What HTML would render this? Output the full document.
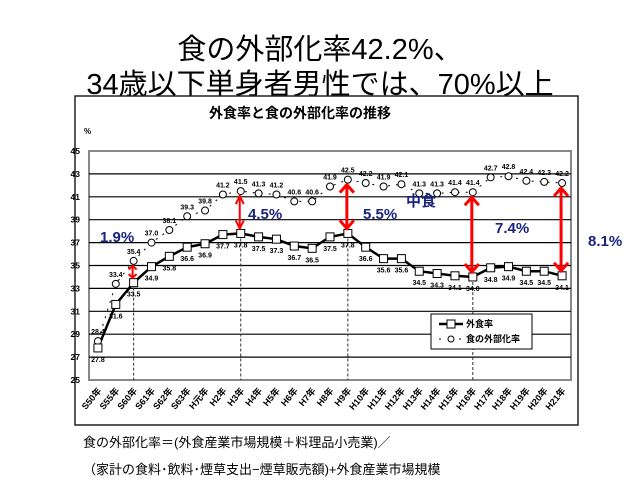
<!DOCTYPE html>
<html><head><meta charset="utf-8"><style>
body{margin:0;width:640px;height:480px;background:#fff;overflow:hidden;font-family:"Liberation Sans","Noto Sans CJK JP",sans-serif}
.t{position:absolute;left:0;width:640px;text-align:center;font-size:29px;color:#000}
.f{position:absolute;left:83px;font-size:13px;color:#000}
</style></head><body>
<div class="t" style="top:26px">食の外部化率42.2%、</div>
<div class="t" style="top:61px">34歳以下単身者男性では、70%以上</div>
<svg width="640" height="480" style="position:absolute;left:0;top:0">
<rect x="75" y="96" width="503" height="329" fill="#fff" stroke="#222" stroke-width="1.5"/>
<g id="g"></g>
</svg>
<div class="f" style="top:432px">食の外部化率＝(外食産業市場規模＋料理品小売業)／</div>
<div class="f" style="top:459px">（家計の食料･飲料･煙草支出−煙草販売額)+外食産業市場規模</div>
<script>
const categories=["S50年","S55年","S60年","S61年","S62年","S63年","H元年","H2年","H3年","H4年","H5年","H6年","H7年","H8年","H9年","H10年","H11年","H12年","H13年","H14年","H15年","H16年","H17年","H18年","H19年","H20年","H21年"];
const gaishoku=[27.8,31.6,33.5,34.9,35.8,36.6,36.9,37.7,37.8,37.5,37.3,36.7,36.5,37.5,37.8,36.6,35.6,35.6,34.5,34.3,34.1,34.0,34.8,34.9,34.5,34.5,34.1];
const gaibuka=[28.4,33.4,35.4,37.0,38.1,39.3,39.8,41.2,41.5,41.3,41.2,40.6,40.6,41.9,42.5,42.2,41.9,42.1,41.3,41.3,41.4,41.4,42.7,42.8,42.4,42.3,42.2];
const yTicks=[25,27,29,31,33,35,37,39,41,43,45];
const arrowIdx=[2,8,14,21,26];
const NS="http://www.w3.org/2000/svg",g=document.getElementById('g');
const L=89,R=571,T=151,B=380,bw=(R-L)/categories.length;
const x=i=>L+bw*(i+.5), y=v=>B-(v-25)/20*(B-T);
function el(t,a,p){const e=document.createElementNS(NS,t);for(const k in a)e.setAttribute(k,a[k]);(p||g).appendChild(e);return e}
function tx(s,a){const e=el('text',a);e.textContent=s;return e}
let e=el('rect',{x:L,y:T,width:R-L,height:B-T,fill:'#fff',stroke:'#888','stroke-width':2});

tx('外食率と食の外部化率の推移',{x:300,y:118,'text-anchor':'middle','font-size':14,'font-weight':'bold'});
tx('%',{x:84,y:134,'font-size':8,'font-weight':'bold'});
yTicks.forEach(v=>{if(v>25&&v<45){e=el('line',{x1:L,x2:R,y1:y(v),y2:y(v),stroke:'#000','stroke-width':1.2});}
 e=tx(v,{x:80,y:y(v)+3,'text-anchor':'end','font-size':8.5,'font-weight':'bold'});});
categories.forEach((c,i)=>{e=tx(c,{x:0,y:0,'font-size':9,'font-weight':'bold','text-anchor':'end',transform:`translate(${x(i)+4},${B+11}) rotate(-50)`});});
[2,8,14,21].forEach(i=>{e=el('line',{x1:x(i),x2:x(i),y1:y(gaishoku[i]),y2:B,stroke:'#333','stroke-dasharray':'3,2'});});
e=el('polyline',{points:gaibuka.map((v,i)=>x(i)+','+y(v)).join(' '),fill:'none',stroke:'#000','stroke-dasharray':'2,6'});

e=el('polyline',{points:gaishoku.map((v,i)=>x(i)+','+y(v)).join(' '),fill:'none',stroke:'#000','stroke-width':2.5});

gaibuka.forEach((v,i)=>{e=el('circle',{cx:x(i),cy:y(v),r:3.5,fill:'#fff',stroke:'#000'});
 tx(v.toFixed(1),{x:x(i),y:y(v)-7,'text-anchor':'middle','font-size':7,'font-weight':'bold'});});
gaishoku.forEach((v,i)=>{e=el('rect',{x:x(i)-4,y:y(v)-4,width:8,height:8,fill:'#fff',stroke:'#000'});
 tx(v.toFixed(1),{x:x(i),y:y(v)+14,'text-anchor':'middle','font-size':7,'font-weight':'bold'});});
arrowIdx.forEach(i=>{const y1=y(gaibuka[i])+4,y2=y(gaishoku[i])-4,xx=x(i)-1;
 const len=y2-y1,h=Math.min(9,len/3),w=len<40?4:7,sw=len<40?2:3;
 e=el('g',{});
 el('line',{x1:xx,x2:xx,y1:y1,y2:y2,stroke:'#f00','stroke-width':sw},e);
 el('polyline',{points:`${xx-w},${y1+h} ${xx},${y1+1} ${xx+w},${y1+h}`,fill:'none',stroke:'#f00','stroke-width':sw},e);
 el('polyline',{points:`${xx-w},${y2-h} ${xx},${y2-1} ${xx+w},${y2-h}`,fill:'none',stroke:'#f00','stroke-width':sw},e);});
[['1.9%',100,242],['4.5%',248,219],['5.5%',363,219],['7.4%',495,233],['8.1%',588,246],['中食',406,206]].forEach(a=>{e=tx(a[0],{x:a[1],y:a[2],'font-size':15,'font-weight':'bold',fill:'#1a237e'});});
e=el('g',{});
el('rect',{x:431,y:314,width:101,height:35,fill:'#fff',stroke:'#000'},e);
el('line',{x1:439,x2:463,y1:324,y2:324,stroke:'#000','stroke-width':2.5},e);
el('rect',{x:447,y:320,width:8,height:8,fill:'#fff',stroke:'#000'},e);
el('line',{x1:439,x2:463,y1:339,y2:339,stroke:'#000','stroke-dasharray':'2,8'},e);
el('circle',{cx:451,cy:339,r:3,fill:'#fff',stroke:'#000'},e);
let t=tx('外食率',{x:466,y:327,'font-size':9,'font-weight':'bold'});e.appendChild(t);
t=tx('食の外部化率',{x:466,y:342,'font-size':9,'font-weight':'bold'});e.appendChild(t);
</script>
</body></html>
